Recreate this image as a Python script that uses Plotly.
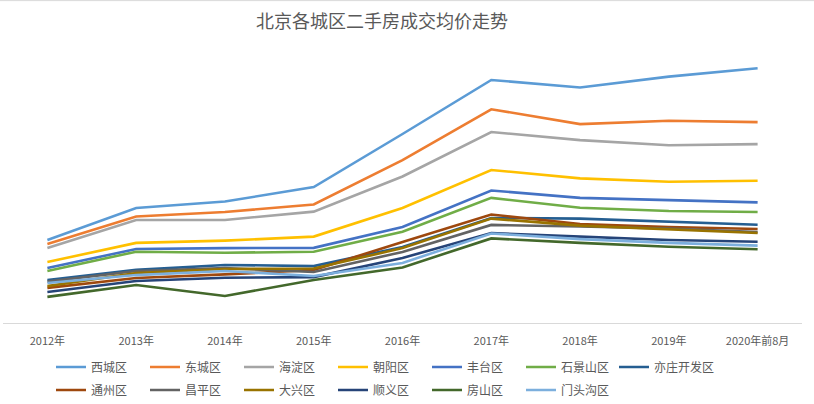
import plotly.graph_objects as go

# 年份（类别轴）
years = ["2012年", "2013年", "2014年", "2015年", "2016年", "2017年", "2018年", "2019年", "2020年前8月"]

# 各城区二手房成交均价（元/平方米，从图上估读）
xicheng = [36900, 51100, 54000, 60400, 84000, 108000, 104700, 109500, 113200]
dongcheng = [35100, 47300, 49300, 52700, 72400, 95000, 88400, 89900, 89300]
haidian = [33300, 45800, 45800, 49500, 65100, 84900, 81300, 79000, 79500]
chaoyang = [27100, 35600, 36600, 38400, 51100, 68000, 64300, 62800, 63200]
fengtai = [24400, 32900, 33300, 33400, 42700, 58900, 55600, 54700, 53600]
shijingshan = [23100, 31700, 31200, 31700, 40600, 55600, 51200, 49800, 49300]
yizhuang = [19100, 23600, 25800, 25300, 33800, 46700, 46400, 44900, 43700]
tongzhou = [15600, 20000, 21600, 23600, 36000, 48200, 44000, 42700, 41800]
changping = [18400, 23100, 24400, 22700, 31600, 43600, 42900, 42000, 40400]
daxing = [16400, 22200, 24000, 24200, 33300, 46400, 43300, 41800, 40000]
shunyi = [13800, 18700, 20100, 20400, 28900, 40000, 38400, 36900, 36100]
fangshan = [11600, 16900, 12000, 19100, 24700, 37600, 35600, 33900, 32800]
mentougou = [17800, 21300, 23100, 20900, 26700, 39800, 37300, 35600, 34400]

# (名称, 数据, 颜色, 所在图例)
series = [
    ("西城区", xicheng, "#5B9BD5", "legend"),
    ("东城区", dongcheng, "#ED7D31", "legend"),
    ("海淀区", haidian, "#A5A5A5", "legend"),
    ("朝阳区", chaoyang, "#FFC000", "legend"),
    ("丰台区", fengtai, "#4472C4", "legend"),
    ("石景山区", shijingshan, "#70AD47", "legend"),
    ("亦庄开发区", yizhuang, "#255E91", "legend3"),
    ("通州区", tongzhou, "#9E480E", "legend2"),
    ("昌平区", changping, "#636363", "legend2"),
    ("大兴区", daxing, "#997300", "legend2"),
    ("顺义区", shunyi, "#264478", "legend2"),
    ("房山区", fangshan, "#43682B", "legend2"),
    ("门头沟区", mentougou, "#7CAFDD", "legend2"),
]

font_cn = "Noto Sans CJK SC"
grey_text = "#595959"

fig = go.Figure()
for name, vals, color, lg in series:
    fig.add_trace(go.Scatter(
        x=years, y=vals, name=name, mode="lines",
        line=dict(color=color, width=2.6),
        legend=lg,
        hovertemplate="%{x}<br>" + name + ": %{y:,}<extra></extra>",
    ))

legend_common = dict(
    orientation="h",
    xref="container", yref="container",
    xanchor="left", yanchor="middle",
    entrywidth=49, entrywidthmode="pixels",
    font=dict(family=font_cn, size=12, color=grey_text),
    bgcolor="rgba(0,0,0,0)",
    itemclick=False,
)

fig.update_layout(
    width=814, height=404,
    margin=dict(l=3, r=12, t=53, b=81, autoexpand=False),
    paper_bgcolor="white", plot_bgcolor="white",
    title=dict(
        text="北京各城区二手房成交均价走势",
        font=dict(family=font_cn, size=18, color=grey_text),
        xref="container", x=382 / 814, xanchor="center",
        yref="container", y=1 - 22 / 404, yanchor="middle",
    ),
    xaxis=dict(
        type="category", range=[-0.5, 8.5],
        showline=True, linecolor="#D9D9D9", linewidth=1,
        showgrid=False, zeroline=False,
        ticks="outside", ticklen=8, tickcolor="rgba(0,0,0,0)",
        tickfont=dict(family=font_cn, size=11, color=grey_text),
        fixedrange=True,
    ),
    yaxis=dict(range=[0, 120000], visible=False, fixedrange=True),
    legend=dict(legend_common, x=51 / 814, y=1 - 367 / 404),
    legend2=dict(legend_common, x=51 / 814, y=1 - 390 / 404),
    legend3=dict(legend_common, x=614 / 814, y=1 - 367 / 404, entrywidth=80),
    shapes=[dict(
        type="line", xref="paper", yref="paper",
        x0=-0.01, x1=1.02, y0=1.194, y1=1.194,
        line=dict(color="#D9D9D9", width=1),
    )],
)

# 去掉页面默认边距，让图从左上角开始
fig.write_html("out.html", config={"displayModeBar": False},
               post_script="document.body.style.margin='0';")
